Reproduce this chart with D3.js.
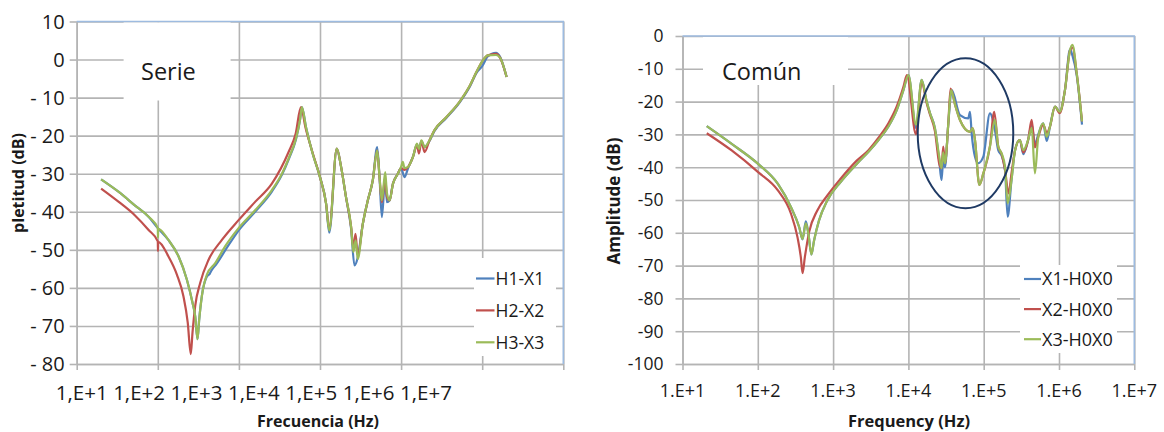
<!DOCTYPE html>
<html><head><meta charset="utf-8">
<script src="https://cdn.jsdelivr.net/npm/d3@7"></script>
<style>body{margin:0;background:#fff}svg{display:block}text{font-family:"Open Sans",sans-serif;fill:#1a1a1a}</style>
</head><body><svg id="c" width="1164" height="432"></svg>
<script>
// ---------------- DATA ----------------
const serieXTickLabels = ["1,E+1","1,E+2","1,E+3","1,E+4","1,E+5","1,E+6","1,E+7"];
const serieYTicks = [10,0,-10,-20,-30,-40,-50,-60,-70,-80];
const serieNames = ["H1-X1","H2-X2","H3-X3"];
const serieH1X1 = [[20,-31.5],[33,-34.8],[52,-38.3],[77,-41.3],[100,-44.3],[135,-47.4],[180,-51.7],[228,-57.8],[268,-63.9],[289,-67.4],[309,-73.5],[324,-68.3],[349,-62.2],[403,-57],[437,-56.3],[457,-55.5],[525,-53.8],[708,-49.5],[1000,-44.8],[1585,-40],[2550,-34.7],[3390,-30.3],[4170,-25.9],[5050,-21],[5660,-16],[5980,-12.5],[6710,-17.7],[8110,-24.7],[10000,-30.9],[11900,-37.9],[13000,-45.5],[16100,-23.4],[18200,-28.2],[20900,-36.1],[24200,-44.5],[26600,-54.1],[29200,-52],[33700,-43.2],[38900,-37],[44700,-31.8],[50700,-23],[54200,-30.9],[57900,-41.4],[63700,-31],[66800,-37.5],[72100,-37],[79400,-32.6],[91200,-30],[100000,-28.5],[110000,-30.9],[122000,-28.5],[140000,-25.6],[157000,-22.3],[166000,-23.5],[178000,-21.4],[195000,-23],[224000,-21.4],[257000,-18.8],[363000,-15.3],[525000,-11.3],[708000,-7],[851000,-3.5],[1000000,-1.75],[1170000,0.8],[1480000,1.75],[1660000,0.7],[2000000,-4.6]];
const serieH2X2 = [[20,-33.9],[33,-37.4],[52,-40.9],[77,-44.8],[100,-47.8],[100.5,-50.3],[101,-47.9],[135,-51.7],[172,-56.5],[207,-62.2],[234,-69.1],[255,-77.4],[268,-71.7],[289,-64.8],[333,-58.7],[423,-52.6],[617,-47.4],[991,-42.2],[1585,-37.4],[2550,-32.6],[4100,-24.3],[5010,-19.5],[5820,-12.5],[6610,-17.8],[8110,-24.5],[10000,-30.9],[11900,-37.9],[13000,-44.5],[16100,-23.4],[18200,-28.2],[20900,-36.1],[24200,-44],[25800,-49.5],[27400,-45.8],[29200,-51.5],[33700,-43.2],[38900,-37],[44700,-31.8],[50700,-23.9],[54200,-30.9],[57900,-37.5],[63700,-31],[66800,-36],[72100,-37],[79400,-32.6],[91200,-30],[100000,-28.5],[110000,-29],[122000,-28.2],[140000,-25.6],[157000,-22.5],[166000,-24.7],[178000,-21.5],[195000,-24.3],[224000,-21.2],[257000,-18.6],[363000,-15.1],[525000,-11.1],[708000,-6.75],[851000,-3.2],[1020000,-0.2],[1170000,1.1],[1480000,1.5],[1660000,0.5],[2000000,-4.6]];
const serieH3X3 = [[20,-31.5],[33,-34.8],[52,-38.3],[77,-41.3],[100,-44.3],[100.5,-46.8],[101,-44.5],[135,-47.4],[180,-51.7],[228,-57.8],[268,-63.9],[289,-67.4],[309,-73.5],[324,-68.3],[349,-62.2],[403,-56.5],[511,-53.5],[676,-49.1],[991,-44.3],[1585,-39.6],[2550,-34.3],[3390,-30],[4170,-25.6],[5050,-20.8],[5660,-16],[5980,-12.5],[6710,-17.7],[8110,-24.7],[10000,-30.9],[11900,-37.9],[13000,-44.9],[16100,-23.4],[18200,-28.2],[20900,-36.1],[24200,-44],[25800,-50.6],[27500,-47.5],[29200,-52.4],[33700,-43.2],[38900,-37],[44700,-31.8],[50700,-23.9],[54200,-30.9],[57900,-37],[63700,-29.6],[66800,-35],[72100,-37],[79400,-32.6],[91200,-30],[100000,-28.2],[105000,-26.9],[110000,-28.5],[122000,-28.2],[140000,-25.6],[157000,-22.1],[166000,-23.5],[178000,-21.2],[195000,-23],[224000,-21.2],[257000,-18.6],[363000,-15.1],[525000,-11.1],[708000,-6.75],[851000,-3.2],[1020000,-0.2],[1170000,1.1],[1480000,1.2],[1660000,0.5],[2000000,-4.6]];

const comunXTickLabels = ["1.E+1","1.E+2","1.E+3","1.E+4","1.E+5","1.E+6","1.E+7"];
const comunYTicks = [0,-10,-20,-30,-40,-50,-60,-70,-80,-90,-100];
const comunNames = ["X1-H0X0","X2-H0X0","X3-H0X0"];
const comunX1 = [[21,-27.5],[45,-32.9],[101,-39],[185,-45.1],[276,-52.2],[355,-58.3],[393,-62],[434,-56.5],[470,-60.3],[515,-66.6],[558,-62.4],[649,-56.3],[834,-50.2],[1250,-44.6],[2060,-39],[2950,-35.3],[4010,-31.7],[5430,-27.6],[7000,-22.6],[8590,-16.5],[10000,-11.9],[12600,-28],[15000,-13.4],[17500,-20],[19400,-23.6],[22500,-28.1],[25700,-38],[27500,-43.9],[29000,-38],[30600,-40],[33900,-26.6],[37600,-16.5],[48400,-24.1],[62400,-25.1],[65800,-23.1],[69200,-29.7],[76600,-36.8],[84700,-38.8],[98900,-36.8],[121000,-23.6],[141000,-28.7],[156000,-34.8],[173000,-36.5],[192000,-41],[208000,-55.1],[234000,-43.9],[261000,-34.8],[302000,-31.7],[336000,-36],[389000,-31.7],[434000,-27],[479000,-33],[531000,-30],[617000,-26.6],[687000,-32],[759000,-27.6],[885000,-21.5],[1020000,-23.1],[1200000,-16.5],[1400000,-4.1],[1510000,-6],[1720000,-12],[2020000,-27]];
const comunX2 = [[21,-29.65],[45,-34.9],[101,-41.5],[185,-47.1],[276,-54.2],[337,-61.4],[373,-67.5],[393,-72.3],[421,-67.5],[480,-59.8],[617,-53.2],[834,-48.7],[1250,-43.6],[2060,-38],[2950,-34.8],[4010,-31],[5430,-26.6],[7000,-21.5],[8590,-15.5],[9550,-11.9],[12600,-30],[15000,-14],[17500,-20.5],[19400,-24],[22500,-29],[25700,-39],[27500,-40.3],[29000,-33.7],[30600,-38.8],[33900,-26.6],[36300,-16],[41700,-21],[48400,-25.6],[65800,-29.2],[71400,-28.1],[76600,-31.7],[87500,-45.4],[98900,-41.9],[121000,-33.7],[138000,-23.1],[156000,-33.7],[173000,-36],[192000,-40.8],[214000,-48],[234000,-41.9],[261000,-34.8],[302000,-31.7],[336000,-35.5],[389000,-31.7],[434000,-25.6],[479000,-34],[531000,-30.7],[617000,-27],[687000,-29.5],[759000,-27.6],[885000,-21.5],[1020000,-23.5],[1200000,-16.5],[1400000,-4.5],[1510000,-3.5],[1720000,-11.4],[2020000,-26]];
const comunX3 = [[21,-27.5],[45,-32.9],[101,-39],[185,-45.1],[276,-52.2],[355,-58.3],[393,-61.9],[434,-57.1],[470,-60.3],[515,-66.6],[558,-62.4],[649,-56.3],[834,-50.2],[1250,-44.6],[2060,-39],[2950,-35.3],[4010,-31.7],[5430,-27.6],[7000,-22.6],[8590,-16.5],[10000,-11.9],[12600,-27],[15000,-13.4],[17500,-20],[19400,-23.6],[22500,-28.1],[25700,-36.8],[27500,-40.3],[29000,-35.5],[30600,-38.8],[33900,-26.6],[36800,-16.5],[41700,-21],[48400,-25.6],[65800,-29.2],[71400,-28.1],[76600,-31.7],[87500,-45.4],[98900,-41.9],[121000,-33.7],[141000,-25.6],[156000,-33.7],[173000,-35.8],[192000,-39.8],[208000,-51],[234000,-43.9],[261000,-34.8],[302000,-31.7],[336000,-34.8],[389000,-31.7],[434000,-28],[479000,-41.9],[531000,-30.7],[617000,-26.6],[687000,-30.7],[759000,-27.6],[885000,-21.5],[1020000,-23.1],[1200000,-16.5],[1400000,-4.3],[1510000,-2.7],[1720000,-11.4],[2020000,-26]];
// highlighted region (freq Hz range, dB range)
const comunHighlight = {f0:13300, f1:247000, db0:-6.8, db1:-52.5};

// ---------------- DRAWING ----------------
const colors = ["#4F81BD","#C0504D","#9BBB59"];
const gridColor = "#b4b4b4", borderColor = "#9dbbe0";
const svg = d3.select("#c");

function chart(o){
  const g = svg.append("g");
  const x = d3.scaleLog().domain([10,1e7]).range([o.x0,o.x1]);
  const y = d3.scaleLinear().domain([o.ymin,o.ymax]).range([o.y1,o.y0]);
  const decades = [1e1,1e2,1e3,1e4,1e5,1e6,1e7];
  // grid
  g.append("g").attr("transform",`translate(0,${o.y1})`)
    .call(d3.axisBottom(x).tickValues(decades).tickSize(-(o.y1-o.y0)).tickFormat(""))
    .call(a=>{a.select(".domain").remove();a.selectAll("line").attr("stroke",gridColor).attr("stroke-width",1.6);});
  g.append("g").attr("transform",`translate(${o.x0},0)`)
    .call(d3.axisLeft(y).tickValues(o.yTicks).tickSize(-(o.x1-o.x0)).tickFormat(""))
    .call(a=>{a.select(".domain").remove();a.selectAll("line").attr("stroke",gridColor).attr("stroke-width",1.6);});
  // outer tick marks
  g.append("g").attr("transform",`translate(0,${o.y1})`)
    .call(d3.axisBottom(x).tickValues(decades).tickSize(6).tickSizeOuter(0).tickFormat(""))
    .call(a=>{a.select(".domain").attr("stroke",gridColor).attr("stroke-width",1.6);a.selectAll("line").attr("stroke",gridColor).attr("stroke-width",1.6);});
  g.append("g").attr("transform",`translate(${o.x0},0)`)
    .call(d3.axisLeft(y).tickValues(o.yTicks).tickSize(7).tickSizeOuter(0).tickFormat(""))
    .call(a=>{a.select(".domain").attr("stroke",gridColor).attr("stroke-width",1.6);a.selectAll("line").attr("stroke",gridColor).attr("stroke-width",1.6);});
  // top & right border
  g.append("path").attr("d",`M${o.x0},${o.y0}H${o.x1}V${o.y1}`).attr("fill","none").attr("stroke",borderColor).attr("stroke-width",1.6);
  // title box
  g.append("rect").attr("x",o.box[0]).attr("y",o.box[1]).attr("width",o.box[2]).attr("height",o.box[3]).attr("fill","#fff");
  // series
  const line = d3.line().x(d=>x(d[0])).y(d=>y(d[1])).curve(d3.curveMonotoneX);
  o.series.forEach((s,i)=>{
    g.append("path").datum(s).attr("d",line).attr("fill","none").attr("stroke",colors[i]).attr("stroke-width",2.2).attr("stroke-linejoin","round");
  });
  // y labels
  g.append("g").selectAll("text").data(o.yTicks).join("text")
    .attr("x",o.x0-o.ylabOff).attr("y",d=>y(d)).attr("dy","0.36em").attr("text-anchor","end")
    .attr("font-size",o.ylabSize).text(o.yFmt);
  // x labels
  const xl = o.xLabelScale || (d=>x(decades[o.xLabels.indexOf(d)]));
  g.append("g").selectAll("text").data(o.xLabels).join("text")
    .attr("x",d=>xl(d)).attr("y",o.xlabY).attr("text-anchor","middle").attr("font-size",o.xlabSize).text(d=>d);
  // axis titles
  g.append("text").attr("x",o.xt[0]).attr("y",o.xt[1]).attr("text-anchor","middle").attr("font-weight","bold").attr("font-size",o.xt[2]).text(o.xTitle);
  g.append("text").attr("transform",`translate(${o.yt[0]},${o.yt[1]}) rotate(-90)`).attr("text-anchor","middle").attr("dy","0.35em").attr("font-weight","bold").attr("font-size",o.yt[2]).text(o.yTitle);
  // chart label
  g.append("text").attr("x",o.lab[0]).attr("y",o.lab[1]).attr("font-size",o.lab[2]).text(o.label);
  // legend
  const lg = g.append("g");
  lg.append("rect").attr("x",o.leg[0]).attr("y",o.leg[1]).attr("width",o.leg[2]).attr("height",o.leg[3]).attr("fill","#fff");
  o.names.forEach((n,i)=>{
    const yy = o.leg[1]+o.legFirst+i*o.legStep;
    lg.append("line").attr("x1",o.leg[0]+o.legLine[0]).attr("x2",o.leg[0]+o.legLine[1]).attr("y1",yy).attr("y2",yy).attr("stroke",colors[i]).attr("stroke-width",2.2);
    lg.append("text").attr("x",o.leg[0]+o.legLine[1]+1).attr("y",yy).attr("dy","0.36em").attr("font-size",o.legSize).text(n);
  });
  return {x,y,g};
}

const L = {x0:76.7,x1:563.3,y0:21.5,y1:364};
chart({
  x0:L.x0,x1:L.x1,y0:L.y0,y1:L.y1,ymin:-80,ymax:10,yTicks:serieYTicks,
  yFmt:d=>d<0?"- "+Math.abs(d):String(d), ylabOff:12, ylabSize:20,
  xLabels:serieXTickLabels, xLabelScale:d3.scalePoint().domain(serieXTickLabels).range([81.7,426]),
  xlabY:400, xlabSize:20.5,
  xTitle:"Frecuencia (Hz)", xt:[318,427,16], yTitle:"pletitud (dB)", yt:[18.5,183,16],
  label:"Serie", lab:[141,80,23.5], box:[123.6,L.y0+1,107,78],
  series:[serieH1X1,serieH2X2,serieH3X3], names:serieNames,
  leg:[474,258,82,98], legLine:[2,20.5], legFirst:20.5, legStep:31.9, legSize:17.5
});

const R = {x0:682.5,x1:1134.3,y0:36,y1:364};
const cr = chart({
  x0:R.x0,x1:R.x1,y0:R.y0,y1:R.y1,ymin:-100,ymax:0,yTicks:comunYTicks,
  yFmt:d=>String(d), ylabOff:19, ylabSize:17.5,
  xLabels:comunXTickLabels, xlabY:397, xlabSize:18,
  xTitle:"Frequency (Hz)", xt:[909,427,16.5], yTitle:"Amplitude (dB)", yt:[614.5,201,17],
  label:"Común", lab:[722,80,23.5], box:[703,R.y0+1,145,48],
  series:[comunX1,comunX2,comunX3], names:comunNames,
  leg:[1020,265,97,88], legLine:[4,21], legFirst:14, legStep:30.1, legSize:18
});
// highlight ellipse
const h = comunHighlight;
const ex0 = cr.x(h.f0), ex1 = cr.x(h.f1), ey0 = cr.y(h.db0), ey1 = cr.y(h.db1);
cr.g.append("ellipse").attr("cx",(ex0+ex1)/2).attr("cy",(ey0+ey1)/2).attr("rx",(ex1-ex0)/2).attr("ry",(ey1-ey0)/2)
  .attr("fill","none").attr("stroke","#1f3a64").attr("stroke-width",2);
</script></body></html>
